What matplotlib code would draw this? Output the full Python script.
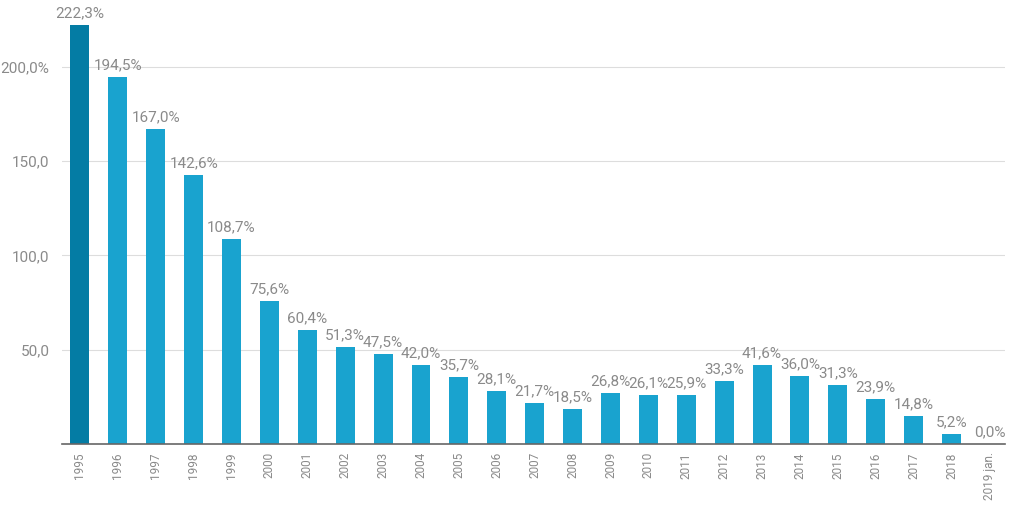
import matplotlib
matplotlib.use("Agg")
import matplotlib.pyplot as plt
import numpy as np

plt.rcParams['font.family'] = ['Roboto', 'DejaVu Sans']

# adatok
years = ['1995', '1996', '1997', '1998', '1999', '2000', '2001', '2002', '2003',
         '2004', '2005', '2006', '2007', '2008', '2009', '2010', '2011', '2012',
         '2013', '2014', '2015', '2016', '2017', '2018', '2019 jan.']
values = [222.3, 194.5, 167.0, 142.6, 108.7, 75.6, 60.4, 51.3, 47.5,
          42.0, 35.7, 28.1, 21.7, 18.5, 26.8, 26.1, 25.9, 33.3,
          41.6, 36.0, 31.3, 23.9, 14.8, 5.2, 0.0]
yticks = [50, 100, 150, 200]
ytick_labels = ['50,0', '100,0', '150,0', '200,0%']

grey = '#8a8a8a'
fig = plt.figure(figsize=(10.24, 5.12), dpi=100)
ax = fig.add_axes([0.0605, 0.133, 0.9205, 0.867])

x = np.arange(len(years))
colors = ['#047ca4'] + ['#19a3cf'] * (len(years) - 1)
ax.bar(x, values, width=0.5, color=colors, zorder=2)

for xi, v in zip(x, values):
    ax.text(xi, v + 2.5, f"{v:.1f}%".replace('.', ','), ha='center', va='bottom',
            fontsize=11, color=grey)

ax.set_xlim(-0.475, 24.4)
ax.set_ylim(0, 235.5)
ax.set_yticks(yticks)
ax.set_yticklabels(ytick_labels, fontsize=11, color=grey)
ax.set_xticks(x)
ax.set_xticklabels(years, rotation=90, fontsize=8.5, color=grey)
ax.tick_params(length=0, pad=6)
ax.tick_params(axis='y', pad=9)
ax.grid(axis='y', color='#dddddd', linewidth=0.8, zorder=0)
for s in ['top', 'right', 'left']:
    ax.spines[s].set_visible(False)
ax.spines['bottom'].set_color('#666666')
ax.spines['bottom'].set_linewidth(1.2)

fig.savefig('out.png', dpi=100)
